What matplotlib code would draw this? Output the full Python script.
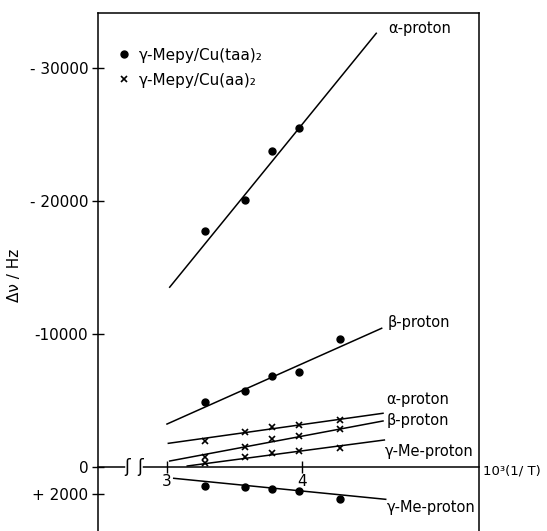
import matplotlib
matplotlib.use("Agg")
import matplotlib.pyplot as plt
import matplotlib.transforms as mtransforms

# 10^3/T values of the measured points
x_pts = [3.28, 3.58, 3.78, 3.98, 4.28]

# gamma-Mepy/Cu(taa)2  (dots)
alpha_taa = [-17770, -20080, -23760, -25510]
beta_taa = [-4870, -5710, -6840, -7120, -9650]
game_taa = [1410, 1480, 1680, 1800, 2410]

# gamma-Mepy/Cu(aa)2  (crosses)
alpha_aa = [-1940, -2630, -2990, -3140, -3530]
beta_aa = [-730, -1530, -2110, -2350, -2840]
game_aa = [-280, -730, -1030, -1230, -1450]

# fitted straight lines (end points)
fit_x = {
    "alpha_taa": [3.02, 4.55],
    "beta_taa": [3.00, 4.59],
    "game_taa": [3.05, 4.62],
    "alpha_aa": [3.01, 4.60],
    "beta_aa": [3.02, 4.60],
    "game_aa": [3.15, 4.61],
}
fit_y = {
    "alpha_taa": [-13520, -32610],
    "beta_taa": [-3230, -10430],
    "game_taa": [850, 2430],
    "alpha_aa": [-1780, -4040],
    "beta_aa": [-450, -3460],
    "game_aa": [-75, -2030],
}

# curve labels: (text, x, y)
curve_labels = [
    ("α-proton", 4.637, -33000),
    ("β-proton", 4.637, -10830),
    ("α-proton", 4.622, -5110),
    ("β-proton", 4.630, -3460),
    ("γ-Me-proton", 4.615, -1130),
    ("γ-Me-proton", 4.630, 3010),
]

y_ticks = [-30000, -20000, -10000, 0, 2000]
y_ticklabels = ["- 30000", "- 20000", "-10000", "0", "+ 2000"]
x_ticks = [3, 4]
x_ticklabels = ["3", "4"]

fig = plt.figure(figsize=(5.47, 5.31), dpi=100)
ax = fig.add_axes([98 / 547, 0.0, 381 / 547, 518 / 531])

lw = 1.1
for key in fit_x:
    ax.plot(fit_x[key], fit_y[key], color="black", lw=lw, zorder=2)

ax.plot(x_pts[:4], alpha_taa, "o", color="black", ms=5, zorder=3,
        label="γ-Mepy/Cu(taa)₂")
ax.plot(x_pts, beta_taa, "o", color="black", ms=5, zorder=3)
ax.plot(x_pts, game_taa, "o", color="black", ms=5, zorder=3)
ax.plot(x_pts, alpha_aa, "x", color="black", ms=4, mew=1.2, zorder=3,
        label="γ-Mepy/Cu(aa)₂")
ax.plot(x_pts, beta_aa, "x", color="black", ms=4, mew=1.2, zorder=3)
ax.plot(x_pts, game_aa, "x", color="black", ms=4, mew=1.2, zorder=3)

for txt, tx, ty in curve_labels:
    ax.text(tx, ty, txt, fontsize=10.5, va="center", ha="left")

ax.set_xlim(2.489, 5.311)
ax.set_ylim(4812, -34135)

ax.spines["bottom"].set_position(("data", 0))
for s in ["left", "right", "top", "bottom"]:
    ax.spines[s].set_linewidth(1.1)

ax.set_yticks(y_ticks)
ax.set_yticklabels(y_ticklabels, fontsize=11)
ax.set_xticks(x_ticks)
ax.set_xticklabels(x_ticklabels, fontsize=11)
ax.tick_params(axis="y", direction="inout", length=8, width=1, pad=3)
ax.tick_params(axis="x", direction="inout", length=8, width=1, pad=1)

# axis break on the x axis
ax.plot([2.71, 2.80], [0, 0], color="white", lw=4, zorder=4, clip_on=False)
for bx in [2.705, 2.80]:
    ax.text(bx, 0, "ʃ", fontsize=12, ha="center", va="center", zorder=5)

trans = mtransforms.blended_transform_factory(ax.transAxes, ax.transData)
ax.text(1.01, 300, "10³(1/ T)", transform=trans, fontsize=9.5,
        ha="left", va="center")

ax.set_ylabel("Δν / Hz", fontsize=11)
ax.yaxis.set_label_coords(-0.20, 0.494)

ax.legend(loc="upper left", bbox_to_anchor=(0.035, 0.945), frameon=False,
          fontsize=11, handlelength=0.8, handletextpad=0.6, labelspacing=0.65,
          borderaxespad=0)

fig.savefig("out.png", dpi=100)
